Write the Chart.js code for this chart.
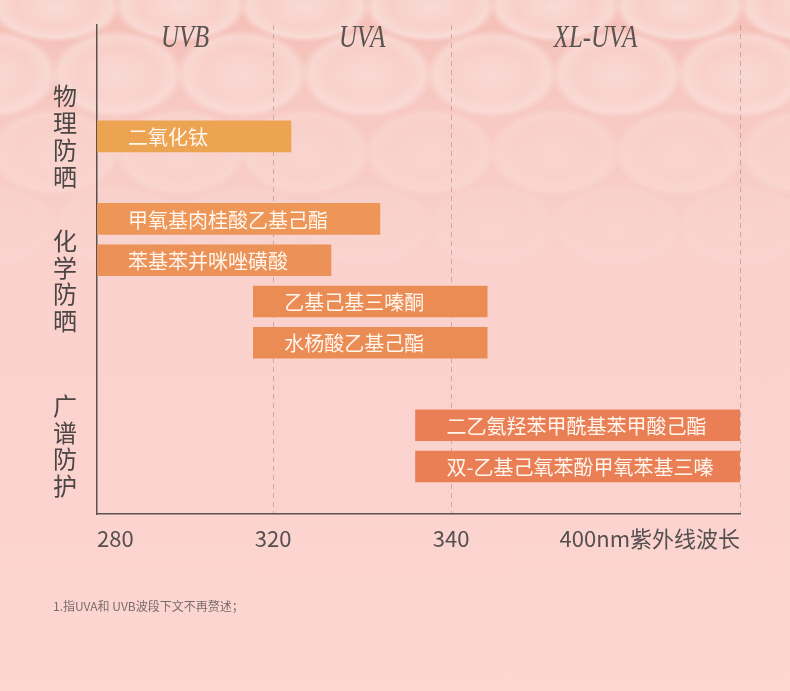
<!DOCTYPE html>
<html lang="zh">
<head>
<meta charset="utf-8">
<title>紫外线波段与防晒成分</title>
<script src="https://cdn.jsdelivr.net/npm/chart.js@4.4.1/dist/chart.umd.min.js"></script>
<style>
  html, body { margin: 0; padding: 0; }
  body { width: 790px; height: 691px; overflow: hidden; position: relative; background: #fdd5d1; }
  #bg { position: absolute; left: 0; top: 0; width: 790px; height: 691px; }
  #wrap { position: absolute; left: 0; top: 0; width: 790px; height: 691px; }
  #note { position: absolute; left: 53px; top: 597px; font: 12px "Noto Sans CJK SC", sans-serif; color: #776d6b; }
</style>
</head>
<body>
<div id="bg"></div>
<div id="wrap"><canvas id="uvChart"></canvas></div>
<div id="note">1.指UVA和 UVB波段下文不再赘述；</div>
<script>
// wavelength axis (nm) and its labels
const AXIS_NM = [280, 320, 340, 400];
const AXIS_LABELS = ['280', '320', '340', '400nm紫外线波长'];
const BANDS = ['UVB', 'UVA', 'XL-UVA'];

// sunscreen groups and ingredients
const GROUPS = ['物理防晒', '化学防晒', '广谱防护'];
const INGREDIENTS = [
    '二氧化钛',
    '甲氧基肉桂酸乙基己酯',
    '苯基苯并咪唑磺酸',
    '乙基己基三嗪酮',
    '水杨酸乙基己酯',
    '二乙氨羟苯甲酰基苯甲酸己酯',
    '双-乙基己氧苯酚甲氧苯基三嗪'
];
const INGREDIENT_GROUP = [0, 1, 1, 1, 1, 2, 2];
const START_NM = [280, 280, 280, 315.5, 315.5, 336, 336];
const END_NM = [322, 332, 326.5, 347.5, 347.5, 400, 400];

// the axis is not linear in nm: each segment between ticks gets its own width
const SEGMENT_WEIGHTS = [1, 1.01, 1.64];
const BAR_COLORS = ['#eca352', '#ed9658', '#ec9157', '#ec8c55', '#ec8c55', '#ea7f56', '#ea7f56'];

// bubbly background
(function () {
    const layers = [];
    const rows = [
        { y: 6, ry: 36, a: 1, off: 55 },
        { y: 74, ry: 44, a: 0.8, off: -8 },
        { y: 152, ry: 44, a: 0.45, off: 55 },
        { y: 226, ry: 42, a: 0.2, off: -8 }
    ];
    rows.forEach(r => {
        for (let x = r.off; x < 860; x += 125) {
            layers.push(`radial-gradient(66px ${r.ry}px at ${x}px ${r.y}px, ` +
                `rgba(255,246,244,${0.5 * r.a}) 0%, rgba(255,238,234,${0.35 * r.a}) 60%, ` +
                `rgba(255,248,246,${0.45 * r.a}) 86%, rgba(255,255,255,0) 100%)`);
        }
    });
    layers.push('linear-gradient(180deg, #f4bfb6 0px, #f7c9c2 110px, #fad1cc 260px, #fdd5d1 691px)');
    document.getElementById('bg').style.background = layers.join(',');
})();

function nmToDecimal(v) {
    const total = SEGMENT_WEIGHTS.reduce((a, b) => a + b, 0);
    let acc = 0;
    for (let i = 0; i < SEGMENT_WEIGHTS.length; i++) {
        const a = AXIS_NM[i], b = AXIS_NM[i + 1];
        if (v <= b || i === SEGMENT_WEIGHTS.length - 1) {
            return (acc + (v - a) / (b - a) * SEGMENT_WEIGHTS[i]) / total;
        }
        acc += SEGMENT_WEIGHTS[i];
    }
}

function decimalToNm(d) {
    const total = SEGMENT_WEIGHTS.reduce((a, b) => a + b, 0);
    let w = d * total;
    for (let i = 0; i < SEGMENT_WEIGHTS.length; i++) {
        if (w <= SEGMENT_WEIGHTS[i] || i === SEGMENT_WEIGHTS.length - 1) {
            return AXIS_NM[i] + w / SEGMENT_WEIGHTS[i] * (AXIS_NM[i + 1] - AXIS_NM[i]);
        }
        w -= SEGMENT_WEIGHTS[i];
    }
}

class WaveScale extends Chart.LinearScale {
    static id = 'wave';
    static defaults = {};
    buildTicks() {
        return AXIS_NM.map(v => ({ value: v }));
    }
    getPixelForValue(value) {
        if (value === null || isNaN(value)) return NaN;
        return this.getPixelForDecimal(nmToDecimal(value));
    }
    getValueForPixel(pixel) {
        return decimalToNm(this.getDecimalForPixel(pixel));
    }
}
Chart.register(WaveScale);

const textPlugin = {
    id: 'uvText',
    afterDatasetsDraw(chart) {
        const c = chart.ctx;
        const area = chart.chartArea;
        const meta = chart.getDatasetMeta(0);
        c.save();

        // ingredient names inside bars
        c.font = '20px "Noto Sans CJK SC"';
        c.fillStyle = '#fff6ee';
        c.textAlign = 'left';
        c.textBaseline = 'middle';
        meta.data.forEach((bar, i) => {
            const left = Math.min(bar.x, bar.base);
            c.fillText(INGREDIENTS[i], left + 31, bar.y + 1);
        });

        // band titles across the top
        const xs = chart.scales.x;
        c.font = 'italic 31px "Liberation Serif"';
        c.fillStyle = '#5b5351';
        c.textAlign = 'center';
        c.textBaseline = 'alphabetic';
        BANDS.forEach((name, i) => {
            const cx = (xs.getPixelForValue(AXIS_NM[i]) + xs.getPixelForValue(AXIS_NM[i + 1])) / 2;
            c.save();
            c.translate(cx, area.top + 22);
            c.scale(0.8, 1);
            c.fillText(name, 0, 0);
            c.restore();
        });

        // vertical group titles
        c.font = '24px "Noto Sans CJK SC"';
        c.fillStyle = '#4b4645';
        c.textBaseline = 'middle';
        GROUPS.forEach((g, gi) => {
            const ys = meta.data.filter((_, i) => INGREDIENT_GROUP[i] === gi).map(b => b.y);
            const mid = (Math.min(...ys) + Math.max(...ys)) / 2;
            const chars = [...g];
            chars.forEach((ch, k) => {
                c.fillText(ch, area.left - 32, mid + (k - (chars.length - 1) / 2) * 26.7);
            });
        });
        c.restore();
    }
};

const ctx = document.getElementById('uvChart');
new Chart(ctx, {
    type: 'bar',
    data: {
        datasets: [{
            data: INGREDIENTS.map((name, i) => ({
                y: i + INGREDIENT_GROUP[i],
                x: [START_NM[i], END_NM[i]]
            })),
            backgroundColor: BAR_COLORS,
            borderWidth: 0,
            borderSkipped: false,
            barThickness: 31
        }]
    },
    options: {
        indexAxis: 'y',
        responsive: true,
        maintainAspectRatio: false,
        animation: false,
        events: [],
        layout: { padding: { top: 25, left: 97, right: 50, bottom: 117 } },
        plugins: {
            legend: { display: false },
            tooltip: { enabled: false }
        },
        scales: {
            x: {
                type: 'wave',
                min: AXIS_NM[0],
                max: AXIS_NM[AXIS_NM.length - 1],
                beginAtZero: false,
                afterFit: s => { s.height = 60; s.paddingLeft = 0; s.paddingRight = 0; },
                grid: {
                    drawTicks: false,
                    lineWidth: 1,
                    color: c => (c.tick && c.tick.value === AXIS_NM[0]) ? 'rgba(0,0,0,0)' : 'rgba(150,118,112,0.45)'
                },
                border: { display: true, color: '#5a5250', width: 1.5, dash: [5, 4] },
                ticks: {
                    align: 'inner',
                    padding: 11,
                    maxRotation: 0,
                    autoSkip: false,
                    color: '#555050',
                    font: { family: '"Noto Sans CJK SC"', size: 22 },
                    callback: (v, i) => AXIS_LABELS[i]
                }
            },
            y: {
                type: 'linear',
                reverse: true,
                offset: false,
                min: -2.7,
                max: 9.15,
                afterFit: s => { s.width = 0; },
                grid: { display: false, drawTicks: false },
                border: { display: true, color: '#5a5250', width: 1.5 },
                ticks: { display: false }
            }
        }
    },
    plugins: [textPlugin]
});
</script>
</body>
</html>
